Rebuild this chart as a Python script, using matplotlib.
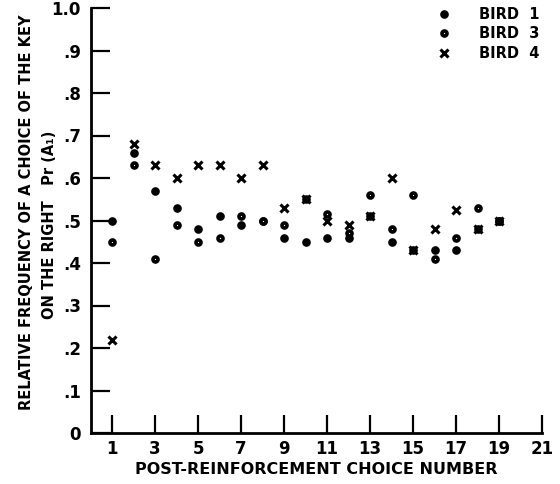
import numpy as np
import matplotlib
matplotlib.use("Agg")
import matplotlib.pyplot as plt

plt.rcParams['font.family'] = ['DejaVu Sans']
plt.rcParams['font.weight'] = 'bold'

choice = list(range(1, 20))
bird1 = [0.50, 0.66, 0.57, 0.53, 0.48, 0.51, 0.49, 0.50, 0.46, 0.45,
         0.46, 0.46, 0.51, 0.45, 0.43, 0.43, 0.43, 0.48, 0.50]
bird3 = [0.45, 0.63, 0.41, 0.49, 0.45, 0.46, 0.51, 0.50, 0.49, 0.55,
         0.515, 0.47, 0.56, 0.48, 0.56, 0.41, 0.46, 0.53, 0.50]
bird4 = [0.22, 0.68, 0.63, 0.60, 0.63, 0.63, 0.60, 0.63, 0.53, 0.55,
         0.50, 0.49, 0.51, 0.60, 0.43, 0.48, 0.525, 0.48, 0.50]

xticks = [1, 3, 5, 7, 9, 11, 13, 15, 17, 19, 21]
yticks = [0, .1, .2, .3, .4, .5, .6, .7, .8, .9, 1.0]
ytick_labels = ["0", ".1", ".2", ".3", ".4", ".5", ".6", ".7", ".8", ".9", "1.0"]
series_labels = ["BIRD  1", "BIRD  3", "BIRD  4"]
xlabel = "POST-REINFORCEMENT CHOICE NUMBER"
ylabel1 = "RELATIVE FREQUENCY OF A CHOICE OF THE KEY"
ylabel2 = "ON THE RIGHT   Pr (A\u2081)"

fig = plt.figure(figsize=(5.6, 4.84), dpi=100)
ax = fig.add_axes([90.5/560, 1-433/484, (542-90.5)/560, (433-8)/484])

h1, = ax.plot(choice, bird1, linestyle='none', marker='o', markersize=5.2,
              color='black', clip_on=False)
h3, = ax.plot(choice, bird3, linestyle='none', marker='o', markersize=3.6,
              markerfacecolor='white', markeredgecolor='black', markeredgewidth=2.6,
              clip_on=False)
h4, = ax.plot(choice, bird4, linestyle='none', marker='x', markersize=6,
              markeredgewidth=2.2, color='black', clip_on=False)

ax.set_xlim(0, 21)
ax.set_ylim(0, 1.0)
ax.spines['top'].set_visible(False)
ax.spines['right'].set_visible(False)
ax.spines['left'].set_linewidth(2)
ax.spines['bottom'].set_linewidth(2)

ax.set_xticks(xticks)
ax.set_xticklabels([str(v) for v in xticks])
ax.set_yticks(yticks)
ax.set_yticklabels(ytick_labels)
ax.tick_params(axis='y', direction='in', length=14, width=1.6, pad=7, labelsize=12)
ax.tick_params(axis='x', direction='in', length=13, width=1.6, pad=5, labelsize=12)

ax.set_xlabel(xlabel, fontsize=11.5, fontweight='bold', labelpad=3)
fig.text(27/560, 1-212/484, ylabel1, rotation=90, ha='center', va='center',
         fontsize=10.5, fontweight='bold')
fig.text(50/560, 1-225/484, ylabel2, rotation=90, ha='center', va='center',
         fontsize=10.5, fontweight='bold')

leg = ax.legend([h1, h3, h4], series_labels, loc='upper right',
                bbox_to_anchor=(1.021, 1.03), frameon=False, fontsize=10.5,
                handletextpad=1.9, labelspacing=0.3, handlelength=1.0,
                borderpad=0.3)

fig.savefig("out.png", dpi=100)
